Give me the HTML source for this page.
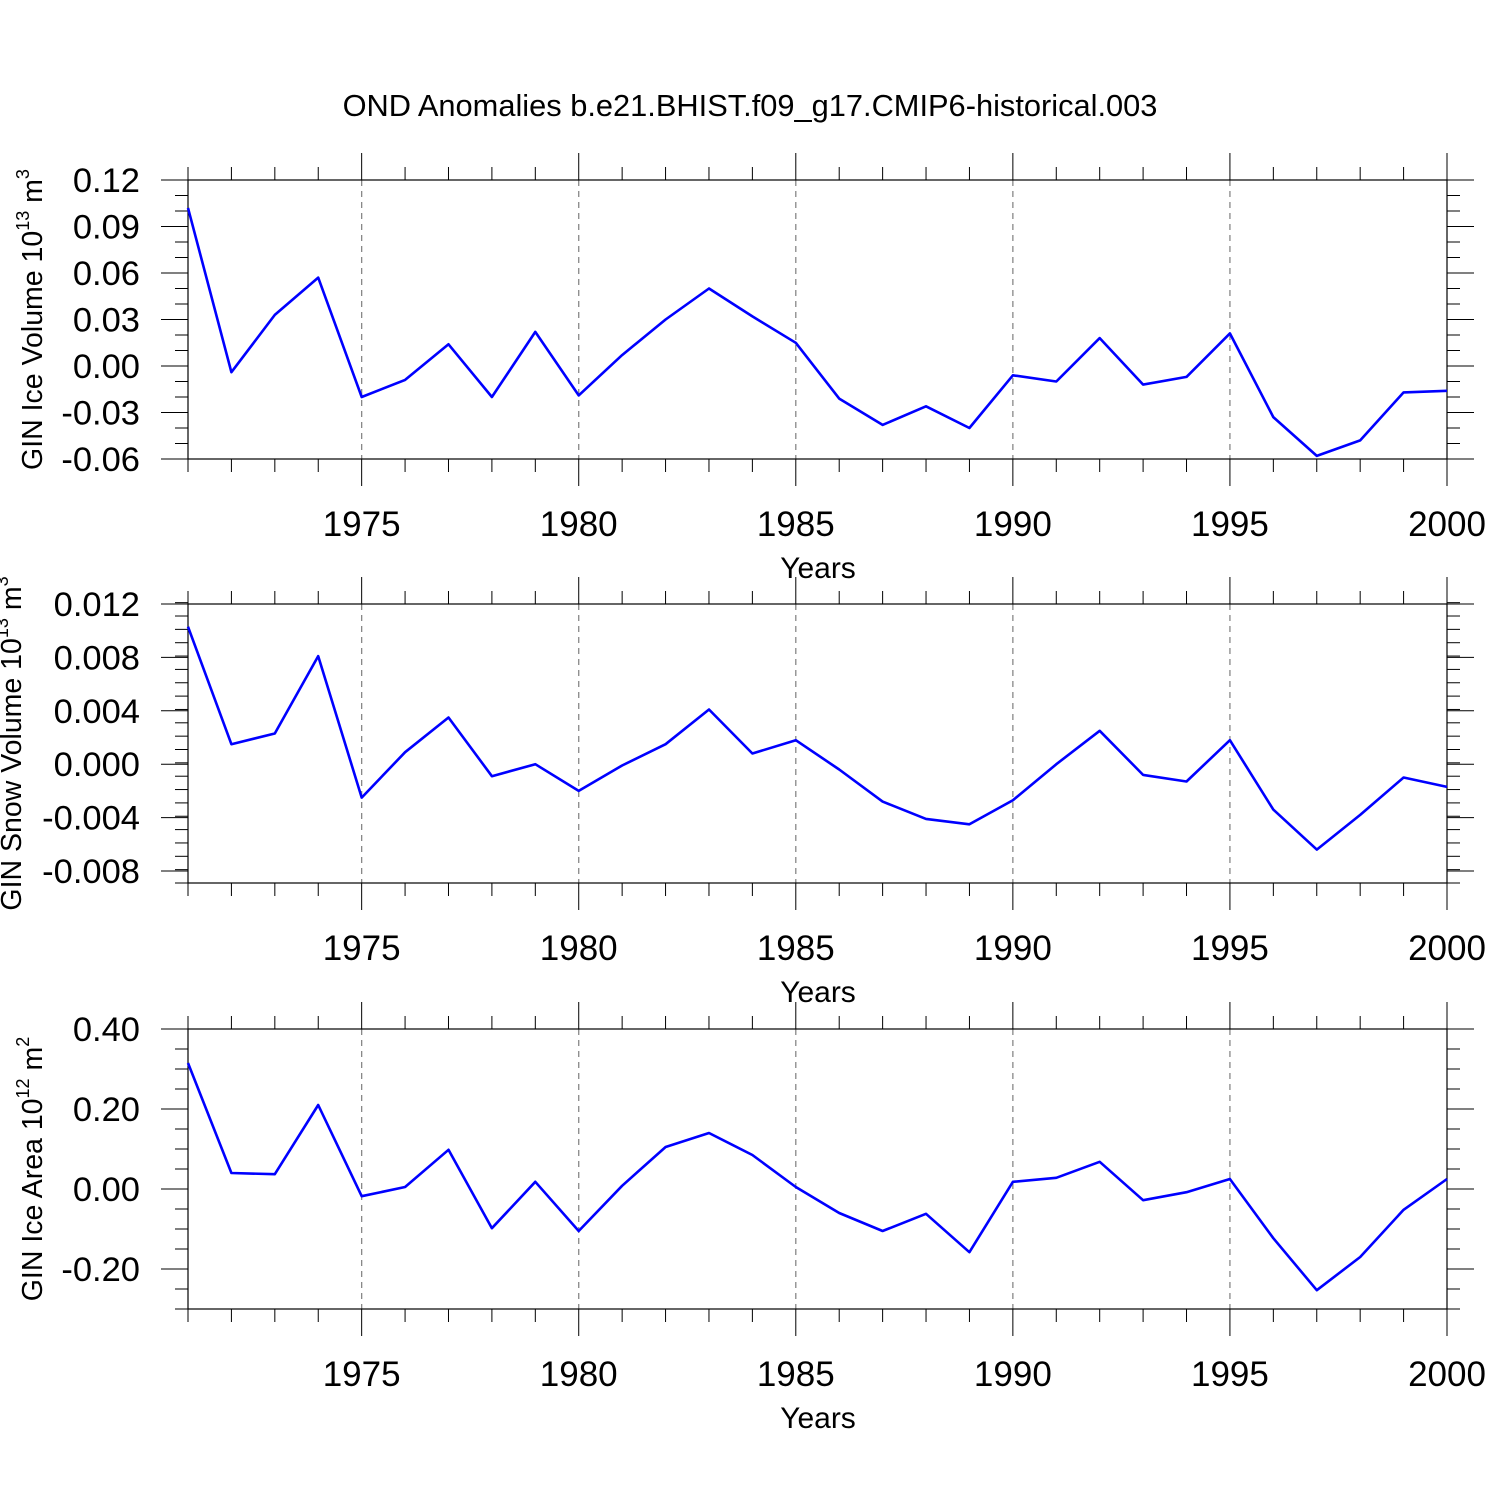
<!DOCTYPE html>
<html><head><meta charset="utf-8"><style>
html,body{margin:0;padding:0;background:#fff;}
svg{display:block;font-family:"Liberation Sans",Arial,sans-serif;}
</style></head><body>
<svg id="chart" width="1500" height="1500" viewBox="0 0 1500 1500" xmlns="http://www.w3.org/2000/svg">
<rect width="1500" height="1500" fill="#fff"/>
<text x="750" y="116" font-size="30.8" text-anchor="middle">OND Anomalies b.e21.BHIST.f09_g17.CMIP6-historical.003</text>
</svg>
<script>
const years = [1971,1972,1973,1974,1975,1976,1977,1978,1979,1980,1981,1982,1983,1984,1985,1986,1987,1988,1989,1990,1991,1992,1993,1994,1995,1996,1997,1998,1999,2000];
const iceVolume = [0.102,-0.004,0.033,0.057,-0.020,-0.009,0.014,-0.020,0.022,-0.019,0.007,0.030,0.050,0.032,0.015,-0.021,-0.038,-0.026,-0.040,-0.006,-0.010,0.018,-0.012,-0.007,0.021,-0.033,-0.058,-0.048,-0.017,-0.016];
const snowVolume = [0.0103,0.0015,0.0023,0.0081,-0.0025,0.0009,0.0035,-0.0009,0.0000,-0.0020,-0.0001,0.0015,0.0041,0.0008,0.0018,-0.0004,-0.0028,-0.0041,-0.0045,-0.0027,0.0000,0.0025,-0.0008,-0.0013,0.0018,-0.0034,-0.0064,-0.0038,-0.0010,-0.0017];
const iceArea = [0.315,0.040,0.037,0.210,-0.018,0.005,0.098,-0.098,0.018,-0.105,0.008,0.105,0.140,0.085,0.005,-0.060,-0.105,-0.062,-0.158,0.018,0.028,0.068,-0.028,-0.008,0.025,-0.123,-0.253,-0.170,-0.052,0.025];
const xTickYears = [1975,1980,1985,1990,1995,2000];
const iceVolTicks = [0.12,0.09,0.06,0.03,0.00,-0.03,-0.06];
const iceVolLabels = ["0.12","0.09","0.06","0.03","0.00","-0.03","-0.06"];
const snowTicks = [0.012,0.008,0.004,0.000,-0.004,-0.008];
const snowLabels = ["0.012","0.008","0.004","0.000","-0.004","-0.008"];
const areaTicks = [0.40,0.20,0.00,-0.20];
const areaLabels = ["0.40","0.20","0.00","-0.20"];

const svg = document.getElementById('chart');
const NS = 'http://www.w3.org/2000/svg';
function mk(tag, attrs, parent){const e=document.createElementNS(NS,tag);for(const k in attrs)e.setAttribute(k,attrs[k]);(parent||svg).appendChild(e);return e;}
const X0=188, X1=1447;
function xs(yr){return X0+(yr-1971)/(2000-1971)*(X1-X0);}

function panel(name, top, bottom, ymin, ymax, data, ticks, labels, minorStep, labelParts, titleX){
  const g = mk('g',{});
  
  
  const ys = v => bottom-(v-ymin)/(ymax-ymin)*(bottom-top);
  xTickYears.forEach(yr=>{ if(yr<2000){ const l=mk('line',{x1:xs(yr),x2:xs(yr),y1:top,y2:bottom,stroke:'#888','stroke-width':1.3,'stroke-dasharray':'6,5'},g);
     }});
  for(let yr=1971; yr<=2000; yr++){
    const major = yr%5===0; const len = major?27:13;
    mk('line',{x1:xs(yr),x2:xs(yr),y1:top-len,y2:top,stroke:'#000','stroke-width':1},g);
    mk('line',{x1:xs(yr),x2:xs(yr),y1:bottom,y2:bottom+len,stroke:'#000','stroke-width':1},g);
  }
  const nMin = Math.round((ymax-ymin)/minorStep);
  for(let i=0;i<=nMin;i++){ const v=ymin+i*minorStep; const y=ys(v);
    mk('line',{x1:X0-13,x2:X0,y1:y,y2:y,stroke:'#000','stroke-width':1},g);
    mk('line',{x1:X1,x2:X1+13,y1:y,y2:y,stroke:'#000','stroke-width':1},g);
  }
  ticks.forEach((v,i)=>{ const y=ys(v);
    mk('line',{x1:X0-27,x2:X0,y1:y,y2:y,stroke:'#000','stroke-width':1},g);
    mk('line',{x1:X1,x2:X1+27,y1:y,y2:y,stroke:'#000','stroke-width':1},g);
    const t=mk('text',{x:140,y:y+12,'font-size':34.5,'text-anchor':'end'},g); t.textContent=labels[i];
     
  });
  mk('rect',{x:X0,y:top,width:X1-X0,height:bottom-top,fill:'none',stroke:'#000','stroke-width':1.2},g);
  xTickYears.forEach(yr=>{ const t=mk('text',{x:xs(yr),y:bottom+77,'font-size':35,'text-anchor':'middle'},g); t.textContent=yr;
     });
  const xt=mk('text',{x:818,y:bottom+119,'font-size':30,'text-anchor':'middle'},g); xt.textContent='Years';
   
  const cy=(top+bottom)/2;
  const yt=mk('text',{x:0,y:0,'font-size':28.5,'text-anchor':'middle',transform:`translate(${titleX},${cy}) rotate(-90)`},g);
   
  yt.appendChild(document.createTextNode(labelParts[0]));
  const sp=mk('tspan',{dy:-13,'font-size':18},yt); sp.textContent=labelParts[1];
  const sp2=mk('tspan',{dy:13},yt); sp2.textContent=' m';
  const sp3=mk('tspan',{dy:-13,'font-size':18},yt); sp3.textContent=labelParts[2];
  const pts=data.map((v,i)=>xs(years[i]).toFixed(1)+','+ys(v).toFixed(1)).join(' ');
  const pl=mk('polyline',{points:pts,fill:'none',stroke:'#0000ff','stroke-width':2.6,'stroke-linejoin':'round'},g);
   
}
panel('ice-volume',180,459,-0.06,0.12,iceVolume,iceVolTicks,iceVolLabels,0.01,['GIN Ice Volume 10','13','3'],42);
panel('snow-volume',604,883,-0.0089,0.012,snowVolume,snowTicks,snowLabels,0.001,['GIN Snow Volume 10','13','3'],21);
panel('ice-area',1029,1309,-0.30,0.40,iceArea,areaTicks,areaLabels,0.05,['GIN Ice Area 10','12','2'],42);
</script>
</body></html>
